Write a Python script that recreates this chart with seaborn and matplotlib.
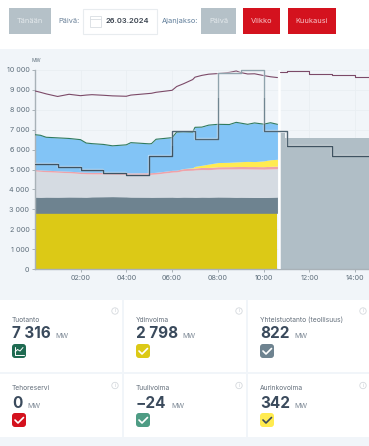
import numpy as np
import pandas as pd
import seaborn as sns
import matplotlib
matplotlib.use("Agg")
import matplotlib.pyplot as plt
import matplotlib.patheffects as pe
from matplotlib.patches import Rectangle, FancyBboxPatch, Circle

# ---------- data (MW, hours of the day) ----------
hours = [0,0.25,0.5,1,1.5,2,2.25,2.5,3,3.4,4,4.2,5,5.1,5.3,6,6.2,6.5,6.9,7,7.3,7.6,8,8.5,8.8,9,9.3,9.6,10,10.3,10.6]
production = [6750,6720,6620,6590,6560,6500,6330,6300,6260,6190,6240,6350,6290,6300,6520,6600,6880,6900,6880,7120,7130,7230,7270,7260,7370,7330,7270,7340,7280,7350,7270]
consumption = [8950,8880,8800,8670,8780,8710,8740,8760,8730,8700,8680,8740,8820,8830,8880,8980,9170,9310,9520,9640,9730,9790,9820,9880,9950,9870,9800,9810,9720,9660,9620]
nuclear = [2798]*31
chp = [820,810,820,815,825,820,815,830,835,840,830,820,815,810,815,820,810,820,815,810,820,815,825,820,810,815,810,805,800,810,822]
other = [1310,1300,1270,1250,1215,1180,1170,1150,1145,1130,1130,1130,1140,1150,1160,1250,1270,1330,1350,1370,1380,1380,1400,1410,1420,1420,1420,1420,1420,1420,1420]
thermal = [70,70,75,75,75,80,80,80,80,80,80,80,85,85,85,90,90,95,100,100,105,110,115,115,120,120,120,125,125,130,130]
solar = [0,0,0,0,0,0,0,0,0,0,0,0,0,0,0,0,0,5,30,80,110,170,210,220,235,240,260,250,290,335,342]

demand_hours = [0,1,2,3,4,5,6,7,8,9,10,11,12,13,14,14.62]
demand = [5300,5130,5000,4800,4720,5680,6950,6530,9870,10000,6930,6200,6200,5680,5680,5680]

fc_hours = [10.72,10.95,12,13,14,14.62]
fc_total = [6830,6570,6570,6570,6580,6580]
fc_cons_hours = [10.72,11,12,13,14,14.62]
fc_consumption = [9900,9950,9800,9730,9630,9630]

y_ticks = [0,1000,2000,3000,4000,5000,6000,7000,8000,9000,10000]
y_labels = ["0","1 000","2 000","3 000","4 000","5 000","6 000","7 000","8 000","9 000","10 000"]
x_ticks = [2,4,6,8,10,12,14]
x_labels = ["02:00","04:00","06:00","08:00","10:00","12:00","14:00"]

card_titles = ["Tuotanto","Ydinvoima","Yhteistuotanto (teollisuus)","Tehoreservi","Tuulivoima","Aurinkovoima"]
card_values = ["7 316","2 798","822","0","−24","342"]
card_colors = ["#1F6B52","#DCC916","#6E8390","#D4121E","#4E9C84","#FFEB50"]

# ---------- style ----------
sns.set_theme(style="white")
plt.rcParams["font.family"] = ["Inter", "DejaVu Sans"]
W, H = 369, 446
fig = plt.figure(figsize=(W/100, H/100), dpi=100, facecolor="white")

# pixel canvas for the dashboard furniture
bg = fig.add_axes([0,0,1,1], zorder=0)
bg.set_xlim(0,W); bg.set_ylim(H,0); bg.axis("off")
PAGE = "#F1F5F9"
bg.add_patch(Rectangle((0,49),W,H-49,fc=PAGE,ec="none"))

def button(x0,x1,color,label,tc):
    bg.add_patch(Rectangle((x0,8),x1-x0,26,fc=color,ec="none"))
    bg.text((x0+x1)/2,21.3,label,color=tc,fontsize=5.3,ha="center",va="center")
button(9,51,"#B5C1C8","Tänään","#E4E9EC")
button(201,236,"#B5C1C8","Päivä","#E4E9EC")
button(243,280,"#D4121E","Viikko","#F6C7CB")
button(288,336,"#D4121E","Kuukausi","#F6C7CB")
bg.text(58,21.3,"Päivä:",color="#6A8199",fontsize=5.3,va="center")
bg.text(162,21.3,"Ajanjakso:",color="#5E7C99",fontsize=5.3,va="center")
bg.add_patch(Rectangle((82.5,8.5),74,25,fc="white",ec="#E8ECEF",lw=0.8))
bg.add_patch(Rectangle((89.5,16),11,10.5,fc="white",ec="#D8DDE2",lw=0.6))
bg.plot([89.5,100.5],[18.5,18.5],color="#D8DDE2",lw=0.6)
bg.text(106,21.3,"26.03.2024",color="#39424E",fontsize=5.4,fontweight="semibold",va="center")
bg.text(31,60.5,"MW",color="#5F6F7C",fontsize=3.6,va="center")

# cards
cols = [(0,122),(124,245.5),(248,369)]
rows = [(299.5,372),(374,437)]
text_x = [12,136,260]
for i,(title,val,col) in enumerate(zip(card_titles,card_values,card_colors)):
    c, r = i%3, i//3
    x0,x1 = cols[c]; y0,y1 = rows[r]
    bg.add_patch(Rectangle((x0,y0),x1-x0,y1-y0,fc="white",ec="none"))
    tx = text_x[c]
    ly = 319.5 if r==0 else 388.5
    vy = 333.5 if r==0 else 403.5
    iy = 344 if r==0 else 413
    bg.text(tx,ly,title,color="#65707C",fontsize=4.8,va="center")
    t = bg.text(tx,vy,val,color="#3A4A5C",fontsize=11,fontweight="bold",va="center")
    fig.canvas.draw()
    bb = t.get_window_extent()
    bg.text(bb.x1+4.5,vy+3,"MW",color="#7B8794",fontsize=5,va="center")
    bg.add_patch(FancyBboxPatch((tx+1.5,iy+1.5),11,11,boxstyle="round,pad=1.5,rounding_size=3",fc=col,ec="none"))
    ic = "#3A4A5C" if col=="#FFEB50" else "white"
    if i==0:
        bg.plot([tx+3,tx+5.5,tx+8,tx+11],[iy+8,iy+5.5,iy+7,iy+3.5],color="white",lw=0.7)
        bg.plot([tx+2.5,tx+2.5,tx+11.5],[iy+3,iy+10.5,iy+10.5],color="white",lw=0.7)
    else:
        bg.plot([tx+3,tx+6,tx+11.5],[iy+7,iy+10,iy+4.5],color=ic,lw=1.2)
    # info marker
    icx = [115,239,363][c]; icy = 311 if r==0 else 385.5
    bg.add_patch(Circle((icx,icy),3.2,fc="none",ec="#D5D9DD",lw=0.6))
    bg.text(icx,icy,"i",color="#C5CAD0",fontsize=3.5,ha="center",va="center")

# ---------- chart ----------
x_px0, x_per_h = 34.7, 22.9
top_px, bot_px = 70, 269
ax = fig.add_axes([35/W, 1-bot_px/H, (W-35)/W, (bot_px-top_px)/H], zorder=2)
ax.patch.set_alpha(0)
ax.set_xlim((35-x_px0)/x_per_h, (W-x_px0)/x_per_h)
ax.set_ylim(0,10000)

df = pd.DataFrame(dict(t=hours,production=production,consumption=consumption))
n = np.array(nuclear); c_ = n+np.array(chp); o = c_+np.array(other)
th = o+np.array(thermal); so = th+np.array(solar)
t = np.array(hours)

ax.fill_between(t,0,n,color="#DCC916",lw=0)
ax.fill_between(t,n,c_,color="#6E8390",lw=0)
ax.fill_between(t,c_,o,color="#D5DBE2",lw=0)
ax.fill_between(t,o,th,color="#EDA3AA",lw=0)
ax.fill_between(t,th,so,color="#FFEB50",lw=0)
ax.fill_between(t,so,production,color="#82C4F6",lw=0)
ax.fill_between(fc_hours,0,fc_total,step="post",color="#B0BEC6",lw=0)

ax.axvline(10.66,color="white",lw=1.8,zorder=3)

sns.lineplot(data=df,x="t",y="production",color="#2F7A5F",lw=0.8,ax=ax,zorder=4,estimator=None)
sns.lineplot(data=df,x="t",y="consumption",color="#7C4A68",lw=0.8,ax=ax,zorder=4,estimator=None)
sns.lineplot(x=fc_cons_hours,y=fc_consumption,color="#7C4A68",lw=0.8,ax=ax,zorder=4,
             drawstyle="steps-post",estimator=None)

# demand step line: colour fades with height
bands = [(0,6200,"#3F5361"),(6200,7300,"#4F6472"),(7300,8600,"#6F8591"),(8600,10100,"#8FA3AD")]
for lo,hi,col in bands:
    before = len(ax.lines)
    sns.lineplot(x=demand_hours,y=demand,color=col,lw=1.0,ax=ax,zorder=5,
                 drawstyle="steps-post",estimator=None)
    line = ax.lines[before]
    line.set_path_effects([pe.withStroke(linewidth=1.7,foreground="white",alpha=0.45)])
    line.set_clip_path(Rectangle((0,lo),15,hi-lo,transform=ax.transData))

ax.set_xlabel(""); ax.set_ylabel("")
ax.set_xticks(x_ticks); ax.set_xticklabels(x_labels)
ax.set_yticks(y_ticks); ax.set_yticklabels(y_labels)
ax.grid(True,color="#E9EEF3",lw=0.6); ax.set_axisbelow(True)
for s in ["top","right"]:
    ax.spines[s].set_visible(False)
for s in ["left","bottom"]:
    ax.spines[s].set_color("#A9B2B8"); ax.spines[s].set_linewidth(1.0)
ax.tick_params(axis="both",length=2.5,width=0.7,color="#A9B2B8",labelcolor="#5F6F7C",labelsize=5.2,pad=1.5,left=True,bottom=True)

fig.savefig("out.png",dpi=100)
